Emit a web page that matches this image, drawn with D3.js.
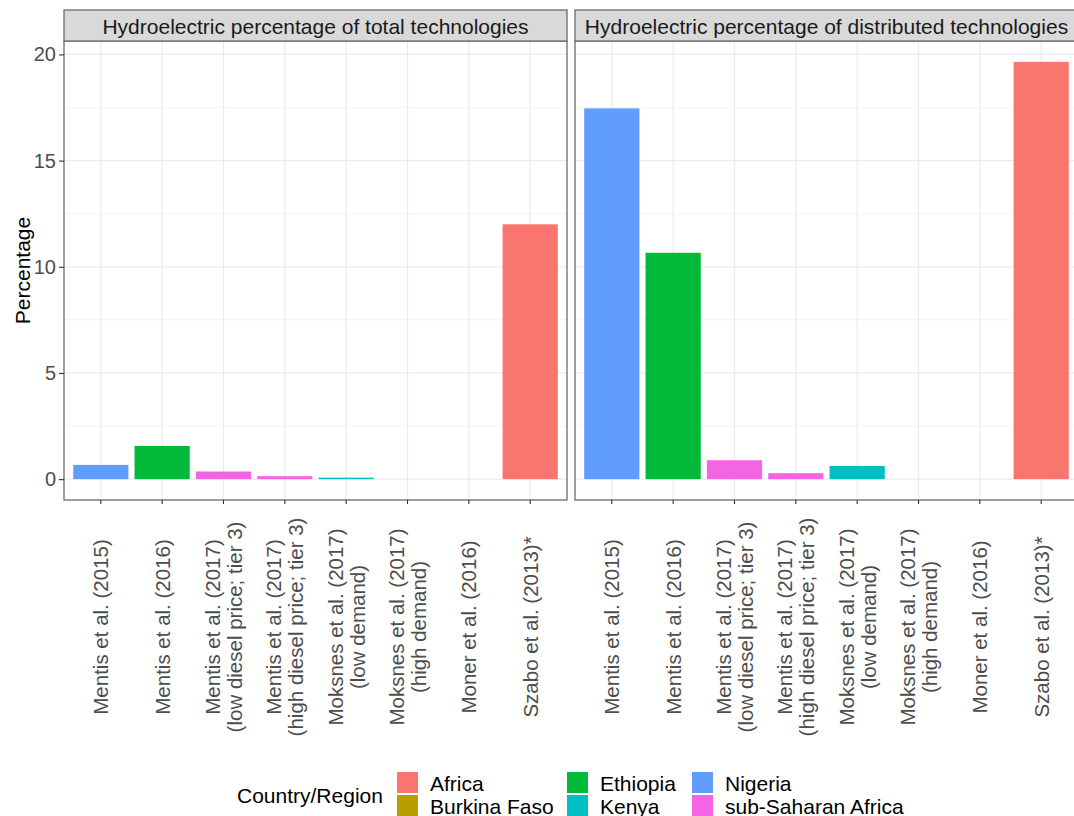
<!DOCTYPE html>
<html>
<head>
<meta charset="utf-8">
<script src="https://cdn.jsdelivr.net/npm/d3@7"></script>
<style>
  body { margin: 0; background: #fff; }
  svg { font-family: "Liberation Sans", Arial, sans-serif; }
</style>
</head>
<body>
<div id="chart"></div>
<script>
// data
const categories = [
  'Mentis et al. (2015)',
  'Mentis et al. (2016)',
  'Mentis et al. (2017)\n(low diesel price; tier 3)',
  'Mentis et al. (2017)\n(high diesel price; tier 3)',
  'Moksnes et al. (2017)\n(low demand)',
  'Moksnes et al. (2017)\n(high demand)',
  'Moner et al. (2016)',
  'Szabo et al. (2013)*'
];
const regions = ['Nigeria', 'Ethiopia', 'sub-Saharan Africa', 'sub-Saharan Africa', 'Kenya', 'Kenya', 'Burkina Faso', 'Africa'];
const totalValues = [0.67, 1.56, 0.36, 0.14, 0.07, 0, 0, 12.0];
const distributedValues = [17.46, 10.66, 0.89, 0.28, 0.62, 0, 0, 19.65];
const panelTitles = ['Hydroelectric percentage of total technologies', 'Hydroelectric percentage of distributed technologies'];
const legendNames = ['Africa', 'Burkina Faso', 'Ethiopia', 'Kenya', 'Nigeria', 'sub-Saharan Africa'];
const legendColors = ['#F8766D', '#B79F00', '#00BA38', '#00BFC4', '#619CFF', '#F564E3'];
const yTicks = [0, 5, 10, 15, 20];

const width = 1074, height = 816;
const plotTop = 41, plotBottom = 500, panelW = 503;
const panelX = [64, 575];

const svg = d3.select('#chart').append('svg')
  .attr('width', width)
  .attr('height', height);

const color = d3.scaleOrdinal().domain(legendNames).range(legendColors);

// shared y scale, ggplot style 5% expansion
const maxVal = d3.max(totalValues.concat(distributedValues));
const y = d3.scaleLinear()
  .domain([-0.05 * maxVal, 1.05 * maxVal])
  .range([plotBottom, plotTop]);
const minorTicks = [2.5, 7.5, 12.5, 17.5];

[totalValues, distributedValues].forEach((values, p) => {
  const x = d3.scaleBand()
    .domain(categories)
    .range([panelX[p], panelX[p] + panelW])
    .paddingInner(0.1)
    .paddingOuter(0.15);

  const g = svg.append('g');

  // grid
  g.selectAll('line.minor').data(minorTicks).enter().append('line')
    .attr('x1', panelX[p]).attr('x2', panelX[p] + panelW)
    .attr('y1', d => y(d)).attr('y2', d => y(d))
    .attr('stroke', '#F0F0F0').attr('stroke-width', 0.8);
  g.selectAll('line.major').data(yTicks).enter().append('line')
    .attr('x1', panelX[p]).attr('x2', panelX[p] + panelW)
    .attr('y1', d => y(d)).attr('y2', d => y(d))
    .attr('stroke', '#EBEBEB').attr('stroke-width', 1.2);
  g.selectAll('line.vgrid').data(categories).enter().append('line')
    .attr('x1', d => x(d) + x.bandwidth() / 2).attr('x2', d => x(d) + x.bandwidth() / 2)
    .attr('y1', plotTop).attr('y2', plotBottom)
    .attr('stroke', '#EBEBEB').attr('stroke-width', 1.2);

  // bars
  g.selectAll('rect.bar').data(values).enter().append('rect')
    .attr('x', (d, i) => x(categories[i]))
    .attr('y', d => y(d))
    .attr('width', x.bandwidth())
    .attr('height', d => y(0) - y(d))
    .attr('fill', (d, i) => color(regions[i]));

  // panel border
  g.append('rect')
    .attr('x', panelX[p]).attr('y', plotTop)
    .attr('width', panelW).attr('height', plotBottom - plotTop)
    .attr('fill', 'none').attr('stroke', '#6b6b6b').attr('stroke-width', 1.3);

  // strip
  g.append('rect')
    .attr('x', panelX[p]).attr('y', 10)
    .attr('width', panelW).attr('height', plotTop - 10)
    .attr('fill', '#D9D9D9').attr('stroke', '#6b6b6b').attr('stroke-width', 1.3);
  g.append('text')
    .attr('x', panelX[p] + panelW / 2).attr('y', 26)
    .attr('text-anchor', 'middle').attr('dominant-baseline', 'central')
    .attr('font-size', '21px').attr('fill', '#1A1A1A')
    .text(panelTitles[p]);

  // x axis ticks and labels
  const xa = g.append('g').attr('transform', 'translate(0,' + plotBottom + ')')
    .call(d3.axisBottom(x).tickSize(4).tickFormat(''));
  xa.select('.domain').remove();
  xa.selectAll('.tick line').attr('stroke', '#333').attr('stroke-width', 1.1);

  categories.forEach(c => {
    const lines = c.split('\n');
    const cx = x(c) + x.bandwidth() / 2;
    const t = g.append('text')
      .attr('transform', 'translate(' + cx + ',627) rotate(-90)')
      .attr('text-anchor', 'middle')
      .attr('font-size', '20.5px').attr('fill', '#4D4D4D');
    lines.forEach((l, i) => {
      t.append('tspan')
        .attr('x', 0)
        .attr('y', 7.5 + (i - (lines.length - 1) / 2) * 22)
        .text(l);
    });
  });
});

// y axis on left panel
const ya = svg.append('g').attr('transform', 'translate(' + panelX[0] + ',0)')
  .call(d3.axisLeft(y).tickValues(yTicks).tickSize(5).tickPadding(3));
ya.select('.domain').remove();
ya.selectAll('.tick line').attr('stroke', '#333').attr('stroke-width', 1.1);
ya.selectAll('.tick text')
  .attr('font-size', '20px').attr('fill', '#4D4D4D')
  .attr('font-family', '"Liberation Sans", Arial, sans-serif');

svg.append('text')
  .attr('transform', 'translate(22,' + (plotTop + plotBottom) / 2 + ') rotate(-90)')
  .attr('text-anchor', 'middle').attr('dominant-baseline', 'central')
  .attr('font-size', '21px').attr('fill', '#000')
  .text('Percentage');

// legend
const legend = svg.append('g');
legend.append('text')
  .attr('x', 237).attr('y', 795)
  .attr('dominant-baseline', 'central')
  .attr('font-size', '21px').attr('fill', '#000')
  .text('Country/Region');
const colX = [397, 567, 692];
const rowY = [772, 795];
legendNames.forEach((n, i) => {
  const cx = colX[Math.floor(i / 2)];
  const ry = rowY[i % 2];
  legend.append('rect')
    .attr('x', cx).attr('y', ry)
    .attr('width', 21).attr('height', 21)
    .attr('fill', color(n));
  legend.append('text')
    .attr('x', cx + 33).attr('y', ry + 11)
    .attr('dominant-baseline', 'central')
    .attr('font-size', '21px').attr('fill', '#000')
    .text(n);
});
</script>
</body>
</html>
